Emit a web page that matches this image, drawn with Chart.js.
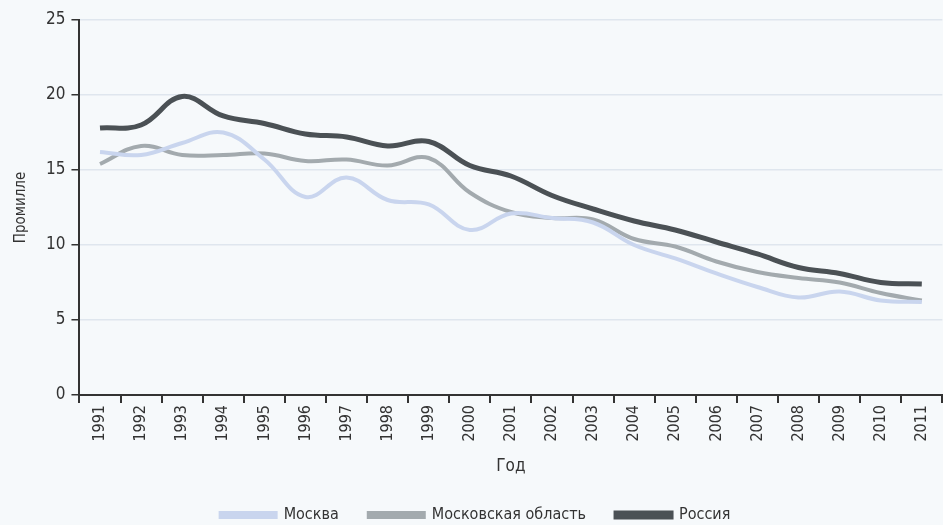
<!DOCTYPE html>
<html>
<head>
<meta charset="utf-8">
<script src="https://cdn.jsdelivr.net/npm/chart.js@4.4.1/dist/chart.umd.min.js"></script>
<style>
  html, body { margin: 0; padding: 0; background: #f6f9fb; }
  #wrap { width: 943px; height: 525px; }
</style>
</head>
<body>
<div id="wrap"><canvas id="ChartRate"></canvas></div>
<script>
const years = ['1991','1992','1993','1994','1995','1996','1997','1998','1999','2000',
  '2001','2002','2003','2004','2005','2006','2007','2008','2009','2010','2011'];
const moskva = [16.2, 16.0, 16.8, 17.5, 15.7, 13.2, 14.5, 13.0, 12.7, 11.0,
  12.1, 11.8, 11.5, 10.0, 9.1, 8.1, 7.2, 6.5, 6.9, 6.3, 6.2];
const oblast = [15.4, 16.6, 16.0, 16.0, 16.1, 15.6, 15.7, 15.3, 15.8, 13.5,
  12.2, 11.8, 11.7, 10.4, 9.9, 8.9, 8.2, 7.8, 7.5, 6.8, 6.3];
const rossiya = [17.8, 18.0, 19.9, 18.6, 18.1, 17.4, 17.2, 16.6, 16.9, 15.3,
  14.6, 13.3, 12.4, 11.6, 11.0, 10.2, 9.4, 8.5, 8.1, 7.5, 7.4];
const yTicks = [0, 5, 10, 15, 20, 25];

const fontFam = "'DejaVu Sans Condensed', 'Liberation Sans', sans-serif";
Chart.defaults.font.family = fontFam;
Chart.defaults.color = '#333';

const ctxx = document.getElementById('ChartRate').getContext('2d');
const chartRate = new Chart(ctxx, {
  type: 'line',
  data: {
    labels: years,
    datasets: [{
      label: 'Москва',
      data: moskva,
      borderColor: '#c9d5ee',
      backgroundColor: '#c9d5ee',
      borderWidth: 4,
      tension: 0.4,
      pointRadius: 0
    }, {
      label: 'Московская область',
      data: oblast,
      borderColor: '#a3aaae',
      backgroundColor: '#a3aaae',
      borderWidth: 4,
      tension: 0.4,
      pointRadius: 0
    }, {
      label: 'Россия',
      data: rossiya,
      borderColor: '#4b5155',
      backgroundColor: '#4b5155',
      borderWidth: 5,
      tension: 0.4,
      pointRadius: 0
    }]
  },
  options: {
    responsive: true,
    maintainAspectRatio: false,
    animation: false,
    layout: { padding: { top: 20, right: 0, left: 8, bottom: -8 } },
    plugins: {
      tooltip: { enabled: false },
      legend: {
        position: 'bottom',
        labels: {
          boxWidth: 55,
          boxHeight: 4,
          padding: 30,
          color: '#333',
          font: { size: 16 }
        }
      }
    },
    scales: {
      x: {
        offset: true,
        border: { color: '#333', width: 2 },
        grid: { drawOnChartArea: false, tickLength: 8, color: '#333', lineWidth: 2, offset: true },
        ticks: { maxRotation: 90, minRotation: 90, color: '#333', font: { size: 16 }, padding: 2 },
        title: { display: true, text: 'Год', color: '#333', font: { size: 17 }, padding: { top: 13, bottom: 0 } }
      },
      y: {
        min: 0,
        max: 25,
        afterBuildTicks: axis => { axis.ticks = yTicks.map(v => ({ value: v })); },
        border: { color: '#333', width: 2 },
        grid: { color: '#dfe6ee', lineWidth: 1.5, tickLength: 8, tickColor: '#333' },
        ticks: { color: '#333', font: { size: 17 }, padding: 6 },
        title: { display: true, text: 'Промилле', color: '#333', font: { size: 15 }, padding: { bottom: 10 } }
      }
    }
  }
});
</script>
</body>
</html>
